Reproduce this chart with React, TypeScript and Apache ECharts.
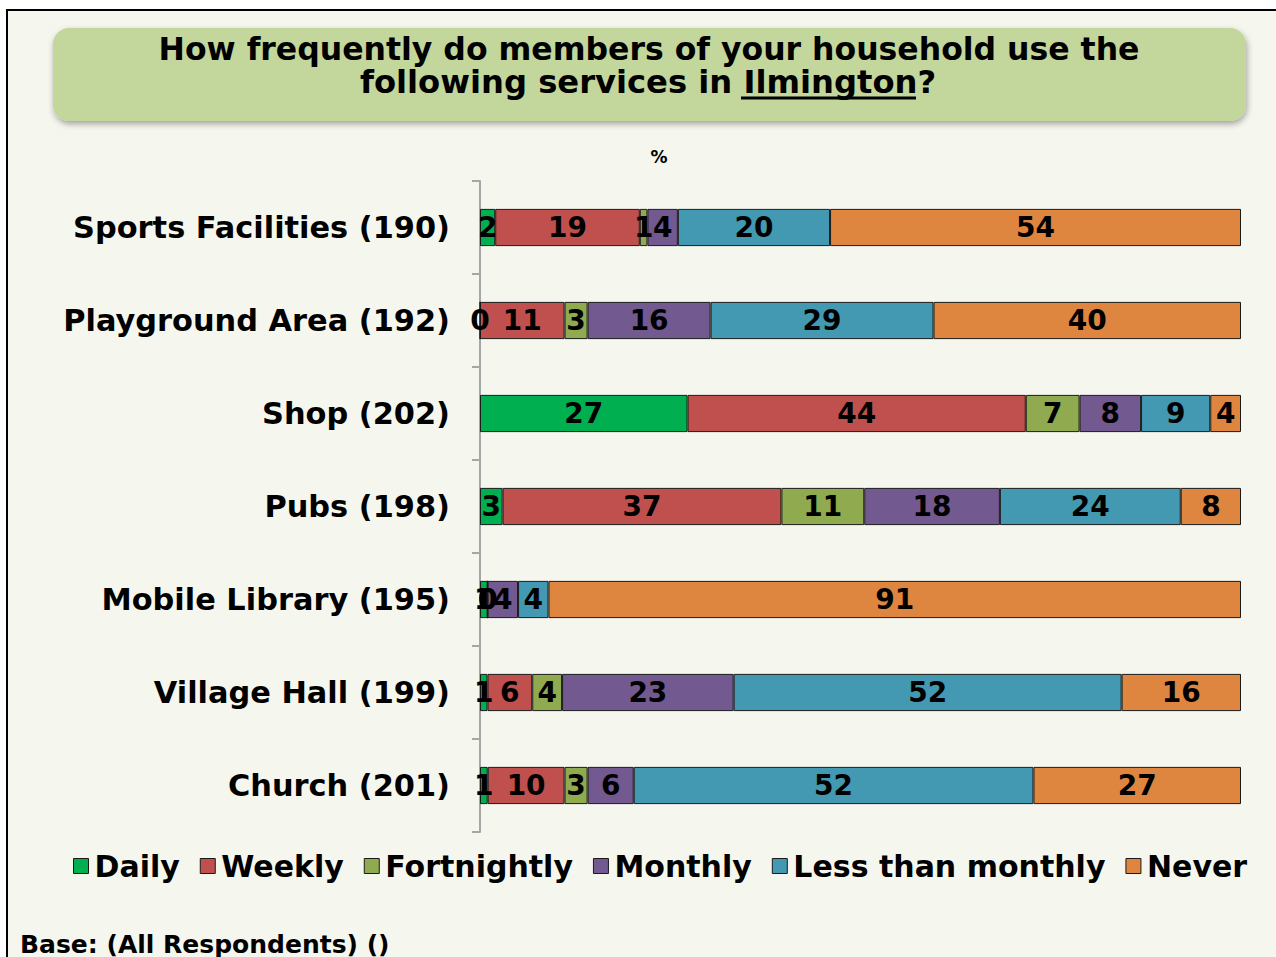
import React, { useEffect, useRef } from "react";
import * as echarts from "echarts";

const categories = [
  "Sports Facilities (190)",
  "Playground Area (192)",
  "Shop (202)",
  "Pubs (198)",
  "Mobile Library (195)",
  "Village Hall (199)",
  "Church (201)",
];
const seriesNames = ["Daily", "Weekly", "Fortnightly", "Monthly", "Less than monthly", "Never"];
const daily = [2, 0, 27, 3, 1, 1, 1];
const weekly = [19, 11, 44, 37, 0, 6, 10];
const fortnightly = [1, 3, 7, 11, 0, 4, 3];
const monthly = [4, 16, 8, 18, 4, 23, 6];
const lessThanMonthly = [20, 29, 9, 24, 4, 52, 52];
const never = [54, 40, 4, 8, 91, 16, 27];
const colors = ["#00b050", "#c0504d", "#8faa4f", "#725990", "#4299b1", "#de853f"];

const FONT = "'DejaVu Sans', Verdana, sans-serif";

export default function App() {
  const ref = useRef<HTMLDivElement>(null);
  useEffect(() => {
    if (!ref.current) return;
    const chart = echarts.init(ref.current, undefined, { renderer: "svg" });
    const all = [daily, weekly, fortnightly, monthly, lessThanMonthly, never];
    const sums = categories.map((_, i) => all.reduce((s, arr) => s + arr[i], 0));
    const series = all.map((arr, k) => ({
      name: seriesNames[k],
      type: "bar",
      stack: "total",
      barCategoryGap: "60%",
      itemStyle: { color: colors[k], borderColor: "#1a1a1a", borderWidth: 1 },
      label: {
        show: true,
        position: "inside",
        color: "#000",
        fontFamily: FONT,
        fontWeight: "bold",
        fontSize: 28,
        formatter: (p: any) => String(p.data.raw),
      },
      data: arr.map((v, i) => ({ value: (v * 100) / sums[i], raw: v })),
    }));
    chart.setOption({
      animation: false,
      backgroundColor: "#ffffff",
      color: colors,
      graphic: [
        {
          type: "rect",
          z: -10,
          silent: true,
          shape: { x: 7, y: 10, width: 1320, height: 1000 },
          style: { fill: "#f5f7ef", stroke: "#000", lineWidth: 2 },
        },
        {
          type: "rect",
          z: -5,
          shape: { x: 53, y: 28, width: 1193, height: 93, r: 16 },
          style: {
            fill: "#c3d69b",
            shadowBlur: 6,
            shadowOffsetY: 3,
            shadowOffsetX: 1,
            shadowColor: "rgba(0,0,0,0.35)",
          },
        },
        {
          type: "text",
          x: 649,
          y: 49,
          style: {
            text: "How frequently do members of your household use the",
            fill: "#000",
            font: `bold 31.5px ${FONT}`,
            align: "center",
            verticalAlign: "middle",
          },
        },
        {
          type: "text",
          x: 648,
          y: 82,
          style: {
            text: "following services in Ilmington?",
            fill: "#000",
            font: `bold 32.2px ${FONT}`,
            align: "center",
            verticalAlign: "middle",
          },
        },
        {
          type: "line",
          shape: { x1: 741, y1: 98, x2: 916, y2: 98 },
          style: { stroke: "#000", lineWidth: 3 },
        },
        {
          type: "text",
          x: 659,
          y: 157,
          style: {
            text: "%",
            fill: "#000",
            font: `bold 17px ${FONT}`,
            align: "center",
            verticalAlign: "middle",
          },
        },
        {
          type: "text",
          x: 20,
          y: 944,
          style: {
            text: "Base: (All Respondents) ()",
            fill: "#000",
            font: `bold 25px ${FONT}`,
            align: "left",
            verticalAlign: "middle",
          },
        },
      ],
      legend: {
        data: seriesNames,
        left: 68,
        top: 846,
        itemWidth: 15,
        itemHeight: 15,
        itemGap: 20,
        icon: "rect",
        itemStyle: { borderColor: "#1a1a1a", borderWidth: 1 },
        textStyle: { fontFamily: FONT, fontWeight: "bold", fontSize: 30, color: "#000", padding: [0, 0, 0, 1] },
      },
      grid: { left: 480, right: 35, top: 181, bottom: 125, containLabel: false },
      xAxis: { type: "value", min: 0, max: 100, show: false },
      yAxis: {
        type: "category",
        data: categories,
        inverse: true,
        axisLine: { show: true, lineStyle: { color: "#a6a6a6", width: 2 } },
        axisTick: { show: true, length: 8, lineStyle: { color: "#a6a6a6", width: 2 } },
        axisLabel: {
          margin: 30,
          color: "#000",
          fontFamily: FONT,
          fontWeight: "bold",
          fontSize: 30.4,
        },
      },
      series,
    });
    return () => chart.dispose();
  }, []);
  return <div ref={ref} style={{ position: "fixed", left: 0, top: 0, width: 1276, height: 957 }} />;
}
